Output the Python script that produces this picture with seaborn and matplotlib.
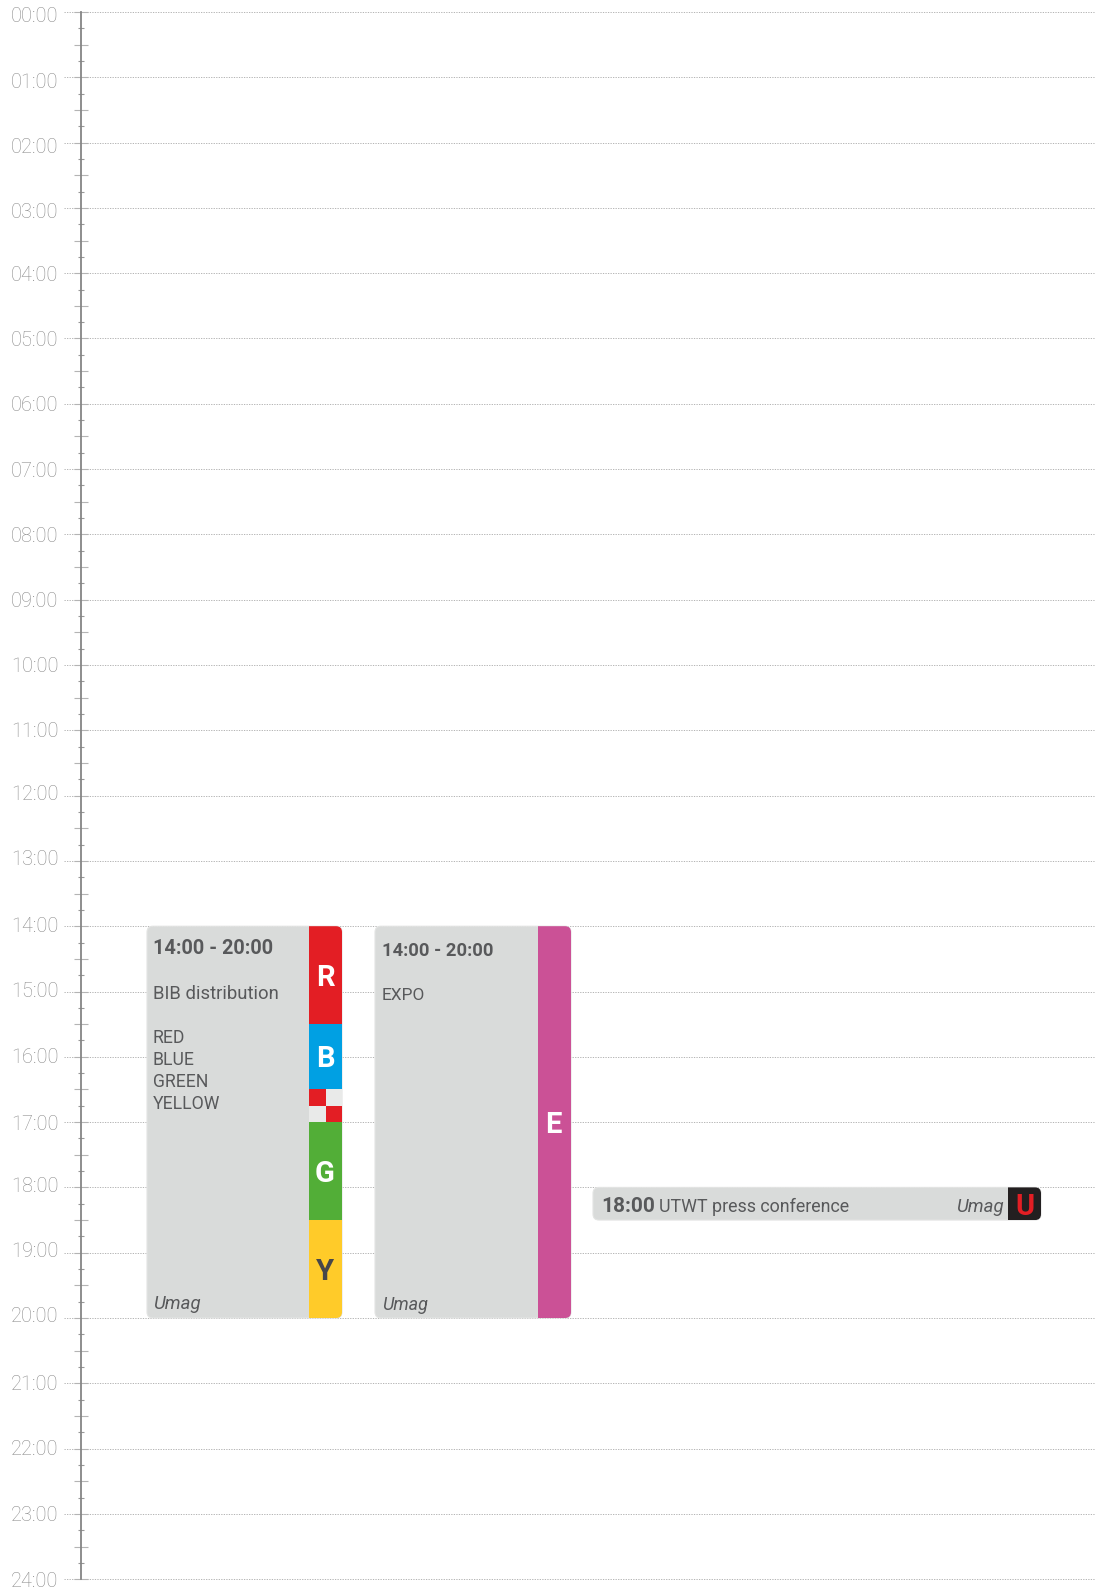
import matplotlib
matplotlib.use("Agg")
import matplotlib.pyplot as plt
from matplotlib.patches import FancyBboxPatch
from matplotlib.ticker import FixedLocator
import seaborn as sns

# Time axis
HOURS = list(range(25))
HOUR_LABELS = [f"{h:02d}:00" for h in HOURS]
# how far each printed label sits below its line in the source image (px)
LABEL_NUDGE = [5, 5, 5, 5, 2, 2, 2, 2, 2, 2, 2, 1, -1, -1, 0, 0, 1, 2, -1, -1, -1, 1, 1, 2, 2]

# Events: start hour, end hour
BIB_TIME = (14, 20)
EXPO_TIME = (14, 20)
PRESS_TIME = (18, 18.5)

# Colour bands in the BIB column
BIB_LETTERS = ["R", "B", None, "G", "Y"]
BIB_STARTS = [14, 15.5, 16.5, 17, 18.5]
BIB_ENDS = [15.5, 16.5, 17, 18.5, 20]
BIB_COLORS = ["#e31e24", "#00a0e3", None, "#52ae37", "#ffcb29"]
BIB_LINES = ["RED", "BLUE", "GREEN", "YELLOW"]

GREY = "#d9dbda"
TEXT = "#58595b"
TICK_TEXT = "#8c8c8c"
DARK = "#231f20"
RED = "#e31e24"
PALE = "#e9eae9"
MAGENTA = "#cb5196"

W, H = 1095, 1589
TOP = 12.0
HOUR_PX = 65.3


def py(px):
    # image row to hour
    return (px - TOP) / HOUR_PX


def band(ax, left, right, start, end, color, clip):
    sns.barplot(x=[(left + right) / 2], y=[end - start], bottom=start, color=color,
                saturation=1, native_scale=True, width=right - left, errorbar=None,
                linewidth=0, ax=ax)
    bar = ax.patches[-1]
    bar.set_zorder(3)
    bar.set_clip_path(clip)


def event_box(ax, left, right, start, end):
    box = FancyBboxPatch((left, start), right - left, end - start,
                         boxstyle="round,pad=0,rounding_size=6",
                         mutation_aspect=1 / HOUR_PX,
                         facecolor=GREY, edgecolor="#e3e4e3", linewidth=0.8, zorder=2)
    ax.add_patch(box)
    return box


sns.set_style("ticks")
plt.rcParams["font.family"] = ["Roboto", "DejaVu Sans"]

fig = plt.figure(figsize=(W / 100, H / 100), dpi=100)
ax = fig.add_axes([0, 0, 1, 1])
ax.patch.set_alpha(0)

# hour lines
ax.hlines(HOURS, 64, W, color="#b4b4b4", linewidth=0.7, linestyle=(0, (1.3, 1.3)), zorder=1)

# BIB distribution
bib_box = event_box(ax, 147, 342, *BIB_TIME)
for letter, start, end, color in zip(BIB_LETTERS, BIB_STARTS, BIB_ENDS, BIB_COLORS):
    if color is None:
        # checkered band, two rows of two
        mid = (start + end) / 2
        band(ax, 309, 325.5, start, mid, RED, bib_box)
        band(ax, 325.5, 342, start, mid, PALE, bib_box)
        band(ax, 309, 325.5, mid, end, PALE, bib_box)
        band(ax, 325.5, 342, mid, end, RED, bib_box)
        continue
    band(ax, 309, 342, start, end, color, bib_box)
    ax.text(325, (start + end) / 2 + 0.04, letter, ha="center", va="center", fontsize=21,
            fontweight="bold", color="#47474a" if letter == "Y" else "white", zorder=4)

ax.text(153, py(949), "14:00 - 20:00", fontsize=14.3, fontweight="bold", color=TEXT, va="center", zorder=4)
ax.text(153, py(994), "BIB distribution", fontsize=13.3, color=TEXT, va="center", zorder=4)
for row, line in zip([1038, 1060, 1082, 1104], BIB_LINES):
    ax.text(153, py(row), line, fontsize=12.7, color=TEXT, va="center", zorder=4)
ax.text(153, py(1304), "Umag", fontsize=13.4, style="italic", color=TEXT, va="center", zorder=4)

# EXPO
expo_box = event_box(ax, 375, 571, *EXPO_TIME)
band(ax, 538, 571, *EXPO_TIME, MAGENTA, expo_box)
ax.text(553.5, sum(EXPO_TIME) / 2 + 0.04, "E", ha="center", va="center", fontsize=21,
        fontweight="bold", color="white", zorder=4)
ax.text(382, py(951), "14:00 - 20:00", fontsize=13.2, fontweight="bold", color=TEXT, va="center", zorder=4)
ax.text(382, py(996), "EXPO", fontsize=12.4, color=TEXT, va="center", zorder=4)
ax.text(382, py(1305), "Umag", fontsize=13.0, style="italic", color=TEXT, va="center", zorder=4)

# UTWT press conference
press_box = event_box(ax, 593, 1041, *PRESS_TIME)
band(ax, 1008, 1041, *PRESS_TIME, DARK, press_box)
ax.text(601, py(1207), "18:00", fontsize=15, fontweight="bold", color=TEXT, va="center", zorder=4)
ax.text(659, py(1207), "UTWT press conference", fontsize=12.9, color=TEXT, va="center", zorder=4)
ax.text(1004, py(1207), "Umag", fontsize=13.4, style="italic", color=TEXT, va="center", ha="right", zorder=4)
ax.text(1025, py(1207), "U", ha="center", va="center", fontsize=21, fontweight="bold", color=RED, zorder=4)

# axis limits go last, barplot touches them
ax.set_xlim(0, W)
ax.set_ylim(py(H), py(0))
ax.set_xlabel("")
ax.set_ylabel("")
ax.set_xticks([])

half_hours = [h / 2 for h in range(49)]
quarters = [h / 4 for h in range(97) if h % 2 == 1]
ax.yaxis.set_major_locator(FixedLocator(half_hours))
ax.yaxis.set_minor_locator(FixedLocator(quarters))
ax.set_yticklabels([])
ax.tick_params(axis="y", which="major", direction="inout", length=9.4, width=0.8, color="#b4b4b4")
ax.tick_params(axis="y", which="minor", direction="inout", length=5, width=0.8, color="#989898")

for t, tick in zip(half_hours, ax.yaxis.get_major_ticks()):
    if t == int(t):
        tick.tick1line.set_visible(False)

# hour labels sit a little unevenly, so they are placed by hand
for h, label, nudge in zip(HOURS, HOUR_LABELS, LABEL_NUDGE):
    ax.text(58.5, h + nudge / HOUR_PX, label, ha="right", va="center", fontsize=14.4,
            fontweight="light", color=TICK_TEXT)

for side in ["top", "right", "bottom"]:
    ax.spines[side].set_visible(False)
ax.spines["left"].set_position(("data", 80.5))
ax.spines["left"].set_bounds(0, 24)
ax.spines["left"].set_color("#858585")
ax.spines["left"].set_linewidth(1.3)

fig.savefig("out.png", dpi=100, facecolor="white")
